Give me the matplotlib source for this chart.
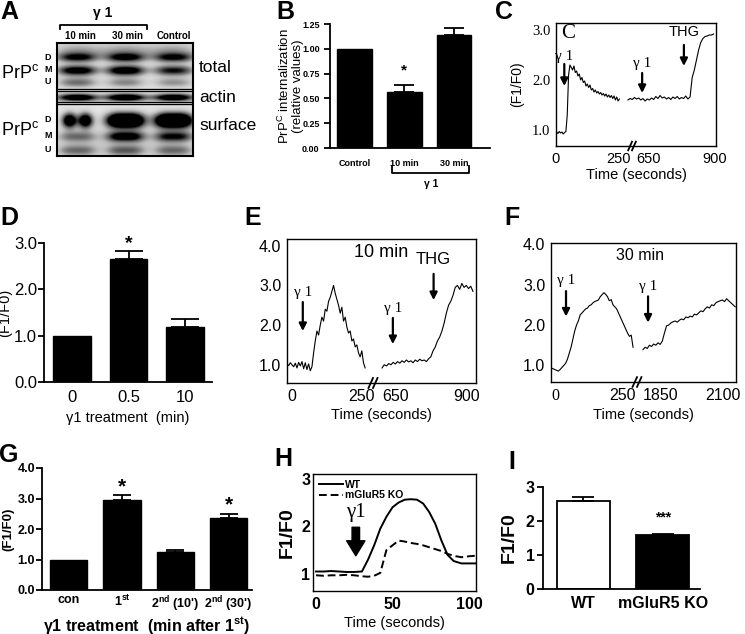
import numpy as np
import matplotlib.pyplot as plt
from matplotlib.lines import Line2D

W, H = 745, 634
plt.rcParams['font.family'] = ['Liberation Sans', 'DejaVu Sans']
plt.rcParams['mathtext.fontset'] = 'custom'
plt.rcParams['mathtext.rm'] = 'Liberation Sans'
plt.rcParams['mathtext.bf'] = 'Liberation Sans:bold'
plt.rcParams['mathtext.it'] = 'Liberation Sans:italic'
SERIF = ['Liberation Serif', 'DejaVu Serif']

# ---------------- data ----------------
# A: band darkness per lane (10 min, 30 min, Control)
lanes = ['10 min', '30 min', 'Control']
total_D = [0.55, 0.6, 0.55]
total_M = [0.75, 0.8, 0.6]
total_U = [0.35, 0.28, 0.25]
actin = [0.8, 0.85, 0.8]
surf_D = [1.2, 1.5, 1.5]
surf_M = [0.3, 0.75, 0.6]
surf_U = [0.3, 0.35, 0.3]

# B: PrPc internalization
b_labels = ['Control', '10 min', '30 min']
b_vals = [1.0, 0.565, 1.14]
b_err = [0.0, 0.07, 0.065]

# C: calcium trace (broken time axis, plotted on a joined scale)
c_u1 = np.arange(20, 256, 5)
c_v1 = [0.96, 0.93, 0.97, 0.94, 0.96, 0.92, 0.95, 0.97,
        1.30, 2.10, 2.30, 2.25, 2.20, 2.28, 2.15, 2.18, 2.08, 2.12,
        2.00, 2.05, 1.95, 1.98, 1.88, 1.92, 1.85, 1.90, 1.80, 1.83,
        1.76, 1.80, 1.74, 1.77, 1.72, 1.75, 1.70, 1.73, 1.68, 1.72,
        1.66, 1.70, 1.65, 1.69, 1.63, 1.68, 1.60, 1.66, 1.58, 1.62]
c_u2 = np.arange(287, 608, 8)
c_v2 = [1.60, 1.63, 1.61, 1.65, 1.62, 1.64, 1.60, 1.63, 1.58, 1.62,
        1.60, 1.64, 1.61, 1.67, 1.63, 1.69, 1.64, 1.66, 1.62, 1.65,
        1.61, 1.66, 1.63, 1.67, 1.62, 1.65, 1.63, 1.68, 1.62, 1.66,
        2.05, 2.20, 2.40, 2.60, 2.75, 2.83, 2.87, 2.88, 2.90, 2.90, 2.92]

# D
d_labels = ['0', '0.5', '10']
d_vals = [1.0, 2.65, 1.18]
d_err = [0.0, 0.17, 0.17]

# E: 10 min
e_u1 = np.arange(-18, 265, 6)
e_v1 = [1.02, 0.98, 1.05, 1.00, 0.95, 1.04, 0.92, 1.06, 0.97, 1.08,
        0.90, 1.05, 0.88, 1.02, 0.85, 0.95, 1.30, 1.60, 1.85, 1.75,
        2.00, 2.20, 2.10, 2.40, 2.35, 2.60, 2.70, 2.85, 3.00, 2.80,
        2.65, 2.50, 2.30, 2.45, 2.10, 2.20, 1.95, 1.80, 1.85, 1.60,
        1.65, 1.45, 1.50, 1.30, 1.20, 1.35, 1.05, 0.92]
e_u2 = np.arange(325, 654, 8)
e_v2 = [0.92, 1.00, 0.97, 1.03, 1.00, 1.06, 1.02, 1.08, 1.04, 1.10,
        1.06, 1.12, 1.07, 1.10, 1.05, 1.12, 1.08, 1.14, 1.10, 1.12,
        1.08, 1.15, 1.20, 1.35, 1.45, 1.60, 1.70, 1.85, 2.05, 2.30,
        2.50, 2.60, 2.75, 2.95, 3.00, 2.90, 3.05, 2.95, 3.00, 2.92,
        2.98, 2.85]

# F: 30 min
f_u1 = np.linspace(-15, 291, 46)
f_v1 = [0.94, 0.92, 0.90, 0.88, 0.86, 0.90, 0.95, 1.00, 1.05, 1.15,
        1.30, 1.45, 1.65, 1.85, 2.00, 2.10, 2.25, 2.30, 2.35, 2.40,
        2.42, 2.48, 2.50, 2.55, 2.58, 2.60, 2.62, 2.70, 2.75, 2.80,
        2.76, 2.70, 2.60, 2.63, 2.50, 2.45, 2.40, 2.30, 2.20, 2.10,
        2.00, 1.90, 1.80, 1.72, 1.75, 1.45]
f_u2 = np.linspace(328, 672, 44)
f_v2 = [1.39, 1.45, 1.42, 1.50, 1.47, 1.53, 1.50, 1.56, 1.52, 1.60,
        1.80, 1.98, 2.00, 2.05, 2.08, 2.10, 2.07, 2.12, 2.15, 2.13,
        2.20, 2.18, 2.22, 2.20, 2.27, 2.25, 2.30, 2.35, 2.33, 2.40,
        2.45, 2.42, 2.50, 2.48, 2.55, 2.58, 2.60, 2.62, 2.58, 2.65,
        2.60, 2.55, 2.50, 2.45]

# G
g_labels = ['con', r'1$^{\mathbf{st}}$', r"2$^{\mathbf{nd}}$ (10')", r"2$^{\mathbf{nd}}$ (30')"]
g_vals = [1.0, 2.95, 1.23, 2.37]
g_err = [0.0, 0.15, 0.07, 0.12]

# H
h_t = [0, 5, 10, 15, 20, 25, 30, 34, 38, 42, 46, 50, 54, 58, 62, 66, 70, 74, 78, 82, 86, 90, 95, 100, 104]
h_wt = [1.05, 1.05, 1.06, 1.05, 1.04, 1.04, 1.05, 1.30, 1.60, 1.95, 2.20, 2.40, 2.50, 2.56, 2.57, 2.56,
        2.48, 2.30, 2.05, 1.70, 1.40, 1.27, 1.22, 1.22, 1.22]
h_ko = [0.97, 0.96, 0.97, 0.97, 0.98, 0.97, 0.95, 0.94, 0.96, 1.02, 1.50, 1.60, 1.70, 1.68, 1.65, 1.63,
        1.60, 1.56, 1.52, 1.48, 1.42, 1.38, 1.35, 1.37, 1.38]

# I
i_labels = ['WT', 'mGluR5 KO']
i_vals = [2.58, 1.58]
i_err = [0.12, 0.05]

# ---------------- helpers ----------------
fig = plt.figure(figsize=(W / 100, H / 100), dpi=100)


def px_axes(x0, y0, x1, y1):
    return fig.add_axes([x0 / W, 1 - y1 / H, (x1 - x0) / W, (y1 - y0) / H])


def ftext(x, y, s, **kw):
    kw.setdefault('ha', 'center')
    kw.setdefault('va', 'center')
    fig.text(x / W, 1 - y / H, s, **kw)


def fline(xs, ys, **kw):
    fig.add_artist(Line2D([x / W for x in xs], [1 - y / H for y in ys],
                          transform=fig.transFigure, color='k', **kw))


def arrow(ax, x, y0, y1, lw=1.6):
    ax.annotate('', xy=(x, y1), xytext=(x, y0),
                arrowprops=dict(arrowstyle='-|>', color='k', lw=lw,
                                mutation_scale=11, shrinkA=0, shrinkB=0))


def breakmark(ax, fx):
    tr = ax.transAxes
    for d in (-0.012, 0.012):
        ax.plot([fx + d - 0.012, fx + d + 0.012], [-0.035, 0.035], transform=tr,
                color='k', lw=1.3, clip_on=False, zorder=5)


def bar_style(ax, fs, bold):
    for s in ('top', 'right'):
        ax.spines[s].set_visible(False)
    for s in ('left', 'bottom'):
        ax.spines[s].set_linewidth(1.3)
    ax.tick_params(axis='y', direction='out', length=4, width=1.3, labelsize=fs)
    ax.tick_params(axis='x', length=0, labelsize=fs)
    if bold:
        for t in ax.get_yticklabels() + ax.get_xticklabels():
            t.set_fontweight('bold')


def trace_style(ax, fs):
    for s in ax.spines.values():
        s.set_linewidth(1.0)
    ax.tick_params(length=0, labelsize=fs, pad=4)


# ---------------- panel labels ----------------
for lab, x, y in [('A', 9, 12), ('B', 285, 12), ('C', 504, 12), ('D', 9, 218),
                  ('E', 253, 218), ('F', 512, 218), ('G', 9, 455), ('H', 283, 459),
                  ('I', 512, 462)]:
    ftext(x, y, lab, fontsize=18, fontweight='bold')

# ---------------- A: blot ----------------
axA = px_axes(57, 43, 193, 156)
by, bx = np.mgrid[0:113, 0:136]
lane_cx = [20, 68, 116]


def blob(cx, cy, sx, sy, a):
    return a * np.exp(-0.5 * (((bx - cx) / sx) ** 2 + ((by - cy) / sy) ** 2))


img = np.full(by.shape, 0.18)
for i, cx in enumerate(lane_cx):
    img += blob(cx, 8, 18, 6, 0.3)
    img += blob(cx, 100, 18, 12, 0.15)
    for dx in (-8, 8):
        img += blob(cx + dx, 14, 9, 3.2, total_D[i])
        img += blob(cx + dx, 27, 9, 3.5, total_M[i])
        img += blob(cx + dx, 39, 9, 3.5, total_U[i])
        img += blob(cx + dx, 54, 10, 2.6, actin[i])
        img += blob(cx + dx, 77, [5, 8, 8][i], 5.0, surf_D[i])
        img += blob(cx + dx, 93, 8, 3.5, surf_M[i])
        img += blob(cx + dx, 107, 8, 3.5, surf_U[i])
axA.imshow(np.clip(img, 0, 1), cmap='Greys', vmin=0, vmax=1, aspect='auto',
           interpolation='bilinear', extent=(0, 136, 113, 0))
for yy in (47, 60):
    axA.axhline(yy, color='white', lw=2.5)
    axA.axhline(yy - 1.2, color='k', lw=1.0)
    axA.axhline(yy + 1.2, color='k', lw=1.0)
axA.set_xticks([])
axA.set_yticks([])
for s in axA.spines.values():
    s.set_linewidth(1.5)

ftext(103, 13, 'γ 1', fontsize=10, fontweight='bold')
fline([60, 60, 147, 147], [29, 25, 25, 29], lw=1.3)
for lab, x in zip(lanes, [80, 128, 174]):
    ftext(x, 36, lab, fontsize=7, fontweight='bold')
for lab, y in zip(['D', 'M', 'U', 'D', 'M', 'U'], [57, 70, 82, 120, 136, 150]):
    ftext(48, y, lab, fontsize=6.5, fontweight='bold')
ftext(20, 73, r'PrP$^{\mathrm{c}}$', fontsize=13)
ftext(20, 130, r'PrP$^{\mathrm{c}}$', fontsize=13)
ftext(199, 68, 'total', fontsize=12.5, ha='left')
ftext(199, 97, 'actin', fontsize=12.5, ha='left')
ftext(199, 126, 'surface', fontsize=12.5, ha='left')

# ---------------- B ----------------
axB = px_axes(330, 24, 490, 148)
xb = np.arange(len(b_vals))
axB.bar(xb, b_vals, width=0.7, color='k', edgecolor='k')
axB.errorbar(xb[1:], b_vals[1:], yerr=[np.zeros(2), b_err[1:]], fmt='none',
             ecolor='k', elinewidth=1.3, capsize=7, capthick=1.3)
axB.set_xlim(-0.5, 2.73)
axB.set_ylim(0, 1.25)
axB.set_yticks([0, 0.25, 0.5, 0.75, 1.0, 1.25])
axB.set_yticklabels(['0.00', '0.25', '0.50', '0.75', '1.00', '1.25'])
axB.set_xticks(xb)
axB.set_xticklabels(b_labels)
bar_style(axB, 6.5, True)
axB.tick_params(axis='x', pad=8)
axB.text(1, 0.78, '*', ha='center', va='center', fontsize=11, fontweight='bold')
ftext(290, 86, 'PrP$^{\\mathrm{C}}$ internalization\n(relative values)', fontsize=9.5,
      rotation=90, linespacing=1.0)
fline([392, 392, 469, 469], [166, 173, 173, 166], lw=1.3)
ftext(431, 184, 'γ 1', fontsize=7.5, fontweight='bold')

# ---------------- C ----------------
axC = px_axes(556, 23, 716, 146)
axC.plot(c_u1, c_v1, color='k', lw=0.8)
axC.plot(c_u2, c_v2, color='k', lw=0.8)
axC.set_xlim(18, 616)
axC.set_ylim(0.68, 3.14)
axC.set_xticks([18, 250, 362, 612])
axC.set_xticklabels(['0', '250', '650', '900'])
axC.set_yticks([1, 2, 3])
axC.set_yticklabels(['1.0', '2.0', '3.0'], family=SERIF)
trace_style(axC, 10.5)
breakmark(axC, (632 - 556) / 160)
axC.set_xlabel('Time (seconds)', fontsize=10.5, labelpad=2)
axC.set_ylabel('(F1/F0)', fontsize=10, labelpad=6)
ftext(561, 34, 'C', fontsize=15, family=SERIF, ha='left')
arrow(axC, 49, 2.32, 1.88)
axC.text(49, 2.47, 'γ 1', fontsize=11, family=SERIF, ha='center', va='center')
arrow(axC, 340, 2.14, 1.74)
axC.text(340, 2.33, 'γ 1', fontsize=11, family=SERIF, ha='center', va='center')
arrow(axC, 496, 2.70, 2.28)
axC.text(496, 2.96, 'THG', fontsize=10.5, ha='center', va='center')

# ---------------- D ----------------
axD = px_axes(44, 243, 212, 382)
xd = np.arange(len(d_vals))
axD.bar(xd, d_vals, width=0.67, color='k', edgecolor='k')
axD.errorbar(xd[1:], d_vals[1:], yerr=[np.zeros(2), d_err[1:]], fmt='none',
             ecolor='k', elinewidth=1.3, capsize=10, capthick=1.3)
axD.set_xlim(-0.5, 2.48)
axD.set_ylim(0, 3.0)
axD.set_yticks([0, 1, 2, 3])
axD.set_yticklabels(['0.0', '1.0', '2.0', '3.0'])
axD.set_xticks(xd)
axD.set_xticklabels(d_labels)
bar_style(axD, 12, False)
axD.tick_params(axis='x', pad=6)
axD.tick_params(axis='y', pad=1)
axD.text(1, 2.98, '*', ha='center', va='center', fontsize=14, fontweight='bold')
axD.set_xlabel('γ1 treatment  (min)', fontsize=10.5, labelpad=4)
axD.set_ylabel('(F1/F0)', fontsize=10.5, labelpad=1)

# ---------------- E ----------------
axE = px_axes(287, 239, 476, 383)
axE.plot(e_u1, e_v1, color='k', lw=0.8)
axE.plot(e_u2, e_v2, color='k', lw=0.8)
axE.set_xlim(-18, 664)
axE.set_ylim(0.54, 4.17)
axE.set_xticks([0, 250, 375, 630])
axE.set_xticklabels(['0', '250', '650', '900'])
axE.set_yticks([1, 2, 3, 4])
axE.set_yticklabels(['1.0', '2.0', '3.0', '4.0'])
trace_style(axE, 11.5)
breakmark(axE, (373 - 287) / 189)
axE.set_xlabel('Time (seconds)', fontsize=10.5, labelpad=3)
axE.text(321, 3.82, '10 min', fontsize=13, ha='center', va='center')
axE.text(511, 3.66, 'THG', fontsize=12, ha='center', va='center')
arrow(axE, 511, 3.29, 2.63)
axE.text(39, 2.83, 'γ 1', fontsize=11, family=SERIF, ha='center', va='center')
arrow(axE, 39, 2.58, 1.85)
axE.text(364, 2.43, 'γ 1', fontsize=11, family=SERIF, ha='center', va='center')
arrow(axE, 364, 2.18, 1.52)

# ---------------- F ----------------
axF = px_axes(551, 243, 736, 382)
axF.plot(f_u1, f_v1, color='k', lw=0.8)
axF.plot(f_u2, f_v2, color='k', lw=0.8)
axF.set_xlim(-15, 675)
axF.set_ylim(0.59, 4.03)
axF.set_xticks([0, 250, 392, 627])
axF.set_xticklabels(['0', '250', '1850', '2100'])
axF.get_xticklabels()[0].set_family(SERIF)
axF.set_yticks([1, 2, 3, 4])
axF.set_yticklabels(['1.0', '2.0', '3.0', '4.0'])
trace_style(axF, 11.5)
breakmark(axF, (637 - 551) / 185)
axF.set_xlabel('Time (seconds)', fontsize=10.5, labelpad=3)
axF.text(317, 3.71, '30 min', fontsize=11.5, ha='center', va='center')
axF.text(41, 3.09, 'γ 1', fontsize=11, family=SERIF, ha='center', va='center')
arrow(axF, 41, 2.84, 2.21)
axF.text(347, 2.96, 'γ 1', fontsize=11, family=SERIF, ha='center', va='center')
arrow(axF, 347, 2.71, 2.06)

# ---------------- G ----------------
axG = px_axes(42, 468, 252, 590)
xg = np.arange(len(g_vals))
axG.bar(xg, g_vals, width=0.7, color='k', edgecolor='k')
axG.errorbar(xg[1:], g_vals[1:], yerr=[np.zeros(3), g_err[1:]], fmt='none',
             ecolor='k', elinewidth=1.3, capsize=6.5, capthick=1.3)
axG.set_xlim(-0.5, 3.44)
axG.set_ylim(0, 4.0)
axG.set_yticks([0, 1, 2, 3, 4])
axG.set_yticklabels(['0.0', '1.0', '2.0', '3.0', '4.0'])
axG.set_xticks(xg)
axG.set_xticklabels(g_labels)
bar_style(axG, 9, True)
axG.tick_params(axis='x', pad=3)
axG.tick_params(axis='y', pad=1)
axG.text(1, 3.37, '*', ha='center', va='center', fontsize=15, fontweight='bold')
axG.text(3, 2.78, '*', ha='center', va='center', fontsize=15, fontweight='bold')
ftext(147, 625, r'γ1 treatment  (min after 1$^{\mathbf{st}}$)', fontsize=11.5,
      fontweight='bold')
axG.set_ylabel('(F1/F0)', fontsize=9.5, fontweight='bold', labelpad=2)

# ---------------- H ----------------
axH = px_axes(313, 474, 476, 591)
axH.plot(h_t, h_wt, color='k', lw=1.4, label='WT')
axH.plot(h_t, h_ko, color='k', lw=1.4, ls=(0, (4, 2)), label='mGluR5 KO')
axH.set_xlim(-2, 104.6)
axH.set_ylim(0.64, 3.1)
axH.set_xticks([0, 50, 100])
axH.set_yticks([1, 2, 3])
trace_style(axH, 11.5)
for t in axH.get_xticklabels() + axH.get_yticklabels():
    t.set_fontweight('bold')
axH.tick_params(axis='y', pad=2)
axH.set_xlabel('Time (seconds)', fontsize=10.5, labelpad=3)
axH.set_ylabel('F1/F0', fontsize=14, fontweight='bold', labelpad=4)
axH.legend(loc='upper left', frameon=False, handlelength=2.3,
           handletextpad=0.2, labelspacing=0.05, borderaxespad=0.15,
           prop={'weight': 'bold', 'size': 7.5})
axH.annotate('', xy=(26, 1.38), xytext=(26, 1.98),
             arrowprops=dict(arrowstyle='simple,head_width=1.1,head_length=0.9,tail_width=0.45',
                             color='k', mutation_scale=12, shrinkA=0, shrinkB=0))
axH.text(26, 2.3, 'γ1', fontsize=15, family=SERIF, ha='center', va='center')

# ---------------- I ----------------
axI = px_axes(543, 487, 700, 589)
xi = np.arange(len(i_vals))
axI.bar(xi, i_vals, width=0.67, color=['white', 'k'], edgecolor='k', linewidth=1.3)
axI.errorbar(xi, i_vals, yerr=[np.zeros(2), i_err], fmt='none',
             ecolor='k', elinewidth=1.3, capsize=8, capthick=1.3)
axI.set_xlim(-0.51, 1.47)
axI.set_ylim(0, 3.0)
axI.set_yticks([0, 1, 2, 3])
axI.set_xticks(xi)
axI.set_xticklabels(i_labels)
bar_style(axI, 11.5, True)
axI.tick_params(axis='x', pad=5)
axI.tick_params(axis='y', pad=2)
axI.text(1, 2.1, '***', ha='center', va='center', fontsize=10, fontweight='bold')
axI.set_ylabel('F1/F0', fontsize=14, fontweight='bold', labelpad=6)

fig.savefig('out.png', dpi=100)
